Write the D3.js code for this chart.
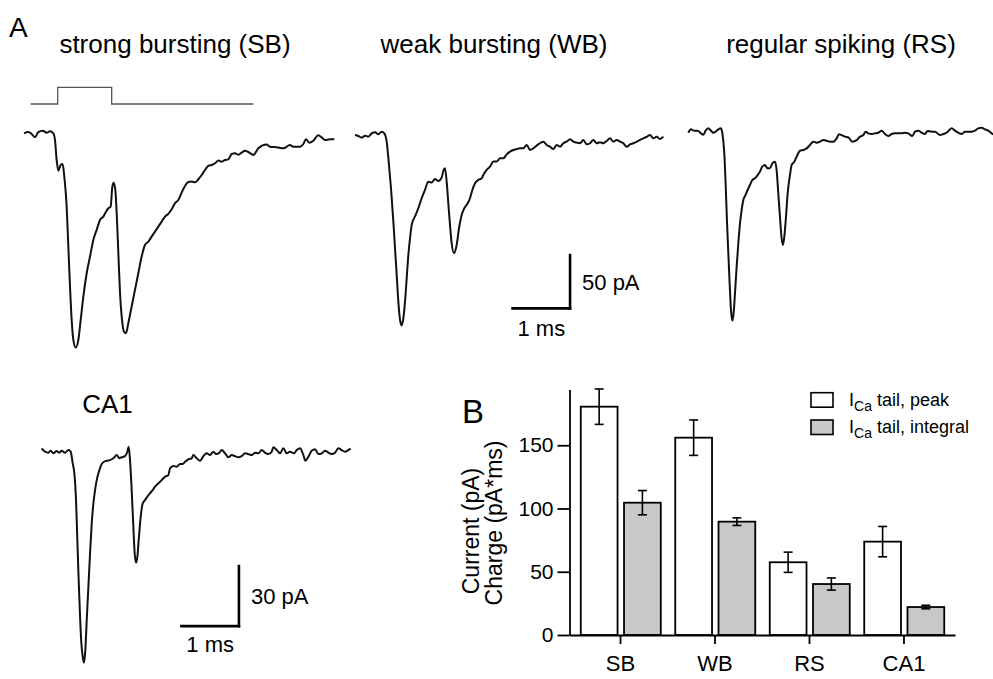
<!DOCTYPE html>
<html>
<head>
<meta charset="utf-8">
<script src="https://cdn.jsdelivr.net/npm/d3@7"></script>
<style>
  body { margin: 0; background: #fff; }
  svg { display: block; font-family: "Liberation Sans", Arial, sans-serif; }
</style>
</head>
<body>
<svg width="993" height="679"></svg>
<script>
// traces: [time (ms), current (pA)]
const sbTrace = [[0,-0.3],[0.075,0.9],[0.133,-0.9],[0.191,-4.1],[0.249,0.9],[0.325,2.2],[0.394,0.3],[0.452,1.6],[0.51,-0.3],[0.539,-6.6],[0.568,-25.3],[0.597,-35.3],[0.638,-30],[0.672,-29.1],[0.701,-40.9],[0.742,-69.1],[0.771,-106.6],[0.8,-144.1],[0.829,-175.3],[0.858,-194.1],[0.899,-201.3],[0.945,-194.1],[0.986,-175.3],[1.032,-153.4],[1.09,-131.6],[1.148,-115.9],[1.206,-100.3],[1.264,-90.9],[1.322,-81.6],[1.38,-78.4],[1.426,-73.8],[1.467,-70.6],[1.507,-69.1],[1.536,-50.3],[1.559,-46.6],[1.588,-53.4],[1.612,-75.3],[1.641,-112.8],[1.67,-150.3],[1.699,-172.2],[1.739,-186.3],[1.774,-187.8],[1.814,-178.4],[1.872,-162.8],[1.93,-147.2],[1.988,-131.6],[2.046,-115.9],[2.104,-105],[2.162,-101.9],[2.22,-97.2],[2.278,-92.5],[2.336,-87.8],[2.394,-83.1],[2.452,-78.4],[2.51,-75.9],[2.568,-71.6],[2.626,-65.9],[2.684,-62.8],[2.742,-55.9],[2.8,-49.7],[2.858,-45.9],[2.916,-45.6],[2.974,-46.3],[3.032,-43.4],[3.09,-39.4],[3.148,-34.7],[3.206,-30.9],[3.264,-30],[3.322,-28.4],[3.38,-25.9],[3.438,-26.9],[3.496,-25.3],[3.554,-24.7],[3.612,-19.7],[3.67,-19.1],[3.728,-20.3],[3.786,-18.4],[3.843,-16.6],[3.901,-17.8],[3.988,-20.6],[4.075,-14.4],[4.22,-10.9],[4.278,-12.8],[4.394,-13.4],[4.51,-14.4],[4.626,-11.3],[4.684,-12.8],[4.8,-12.8],[4.858,-10.3],[4.904,-5.9],[4.962,-9.1],[5.032,-7.2],[5.119,-2.2],[5.177,-4.1],[5.235,-6.6],[5.322,-5.9],[5.397,-5.9]];

const wbTrace = [[0,-0.6],[0.058,-1.6],[0.116,-3.1],[0.174,-1.3],[0.232,-2.2],[0.29,0.9],[0.348,1.9],[0.406,0],[0.464,2.5],[0.51,0.9],[0.551,-6.9],[0.591,-28.8],[0.626,-50.6],[0.667,-81.9],[0.696,-106.9],[0.725,-131.9],[0.754,-156.9],[0.783,-174.1],[0.812,-179.4],[0.841,-172.5],[0.87,-156.9],[0.899,-135],[0.928,-113.1],[0.957,-97.5],[0.986,-85],[1.014,-80.3],[1.055,-75.6],[1.101,-69.4],[1.159,-60],[1.217,-52.2],[1.275,-44.4],[1.333,-45.3],[1.391,-41.9],[1.449,-43.8],[1.507,-40.6],[1.536,-34.4],[1.565,-31.9],[1.594,-44.4],[1.623,-64.7],[1.652,-85],[1.681,-102.2],[1.722,-111.6],[1.768,-103.8],[1.809,-88.1],[1.855,-75.6],[1.901,-69.4],[1.959,-64.7],[2,-60],[2.041,-52.2],[2.087,-45.9],[2.145,-42.8],[2.203,-41.3],[2.232,-38.1],[2.29,-33.4],[2.348,-30.3],[2.406,-25.6],[2.464,-25.6],[2.522,-22.5],[2.58,-22.5],[2.638,-18.8],[2.696,-16.3],[2.754,-14.7],[2.812,-13.8],[2.87,-13.1],[2.928,-13.1],[2.986,-10],[3.043,-14.7],[3.101,-13.1],[3.159,-10.6],[3.217,-8.4],[3.275,-6.9],[3.333,-10],[3.391,-11.6],[3.449,-13.8],[3.507,-10],[3.565,-11.6],[3.623,-8.4],[3.681,-6.9],[3.739,-4.7],[3.797,-6.9],[3.855,-7.8],[3.913,-8.4],[3.971,-5.3],[4.029,-9.4],[4.087,-8.4],[4.145,-5.3],[4.203,-8.4],[4.261,-7.5],[4.319,-8.4],[4.377,-6.3],[4.435,-3.8],[4.493,-6.9],[4.551,-5.3],[4.609,-6.9],[4.667,-8.4],[4.725,-11.6],[4.783,-9.4],[4.841,-8.4],[4.899,-6.9],[4.957,-5.3],[5.014,-3.8],[5.072,-2.5],[5.13,-0.6],[5.188,-3.8],[5.246,-2.2],[5.304,-4.4],[5.362,-2.2]];

const rsTrace = [[0,-1.9],[0.046,1.3],[0.104,0],[0.162,0],[0.22,-2.5],[0.261,-3.8],[0.301,0],[0.348,2.2],[0.394,0],[0.435,-1.9],[0.475,-0.9],[0.522,1.3],[0.568,2.2],[0.597,-4.1],[0.626,-21.3],[0.649,-49.4],[0.672,-83.8],[0.696,-115],[0.719,-143.1],[0.742,-168.1],[0.765,-178.1],[0.788,-171.3],[0.812,-152.5],[0.841,-127.5],[0.87,-105.6],[0.899,-86.9],[0.928,-74.4],[0.957,-65],[0.986,-61.3],[1.032,-55.6],[1.072,-50.9],[1.113,-46.3],[1.159,-44.7],[1.206,-41.6],[1.246,-38.4],[1.287,-33.8],[1.333,-32.2],[1.38,-35.3],[1.42,-35.3],[1.461,-30.6],[1.507,-29.1],[1.536,-36.9],[1.565,-58.8],[1.594,-80.6],[1.623,-100.9],[1.646,-107.2],[1.67,-99.4],[1.699,-80.6],[1.728,-58.8],[1.768,-41.6],[1.797,-32.2],[1.843,-29.1],[1.884,-24.4],[1.942,-18.8],[2,-18.1],[2.058,-16.6],[2.116,-13.4],[2.174,-10.3],[2.232,-11.3],[2.29,-10.3],[2.348,-8.8],[2.406,-9.4],[2.464,-10.3],[2.522,-10.3],[2.58,-7.2],[2.62,-3.4],[2.667,-4.1],[2.725,-5.6],[2.783,-6.3],[2.852,-10.3],[2.928,-8.8],[2.986,-5.6],[3.043,-4.1],[3.084,-0.9],[3.13,-2.5],[3.188,-3.1],[3.246,-2.5],[3.304,-1.9],[3.362,0],[3.42,-3.1],[3.478,-5],[3.536,-3.1],[3.594,-2.5],[3.652,-2.5],[3.71,-2.5],[3.768,-1.9],[3.826,-2.5],[3.896,-5],[3.942,-0.9],[4,0],[4.058,-1.9],[4.116,-3.1],[4.162,-0.3],[4.232,-0.9],[4.29,-0.9],[4.377,-4.1],[4.435,-3.1],[4.493,-1.9],[4.58,2.2],[4.638,0],[4.696,-1.9],[4.754,-3.1],[4.812,-0.9],[4.87,-0.9],[4.928,-0.9],[4.986,0],[5.043,2.2],[5.101,2.8],[5.159,1.3],[5.217,0],[5.275,-2.5],[5.304,-3.4]];

const ca1Trace = [[0,1.7],[0.058,0],[0.116,-0.5],[0.157,0.5],[0.203,-0.8],[0.261,0.3],[0.307,-0.5],[0.348,0.5],[0.406,-0.5],[0.464,0.8],[0.504,0],[0.539,-5.8],[0.568,-10.8],[0.597,-24.2],[0.62,-44.2],[0.643,-64.2],[0.667,-82.5],[0.69,-95.8],[0.713,-102.5],[0.736,-105.5],[0.759,-99.2],[0.783,-84.2],[0.812,-67.5],[0.841,-50.8],[0.87,-35.8],[0.899,-25.8],[0.928,-19.2],[0.957,-14.2],[0.986,-10.8],[1.014,-8.3],[1.043,-6.2],[1.084,-5],[1.13,-4.5],[1.188,-4.2],[1.246,-3.3],[1.304,-1.7],[1.351,-3.3],[1.391,-2.8],[1.449,-2.2],[1.49,0],[1.513,2.5],[1.536,-4.2],[1.565,-19.2],[1.594,-37.5],[1.617,-50.8],[1.641,-55.5],[1.664,-52.5],[1.687,-44.2],[1.722,-32.5],[1.757,-25.8],[1.797,-24.2],[1.838,-22.5],[1.884,-20.8],[1.93,-19.2],[1.971,-17.5],[2.029,-15.8],[2.087,-14.2],[2.145,-12.5],[2.203,-11.7],[2.232,-8.3],[2.29,-7.2],[2.348,-7.5],[2.406,-6.2],[2.452,-6.2],[2.493,-5],[2.551,-3.8],[2.609,-3.3],[2.638,-1.7],[2.696,-3.3],[2.754,-4.5],[2.812,-2.2],[2.87,-0.8],[2.928,-1.7],[2.986,0],[3.032,-1.2],[3.09,-0.5],[3.13,0.8],[3.188,-0.8],[3.246,-2.8],[3.304,-1.7],[3.362,-2.2],[3.42,-2.8],[3.478,-2.2],[3.536,-0.8],[3.594,-1.2],[3.652,-1.7],[3.71,-0.5],[3.768,-0.8],[3.826,0.8],[3.884,-0.5],[3.942,-1.2],[4,0],[4.029,2.2],[4.087,0.8],[4.145,-0.8],[4.203,1.7],[4.261,-0.8],[4.319,0],[4.388,-0.8],[4.435,0.8],[4.493,1.7],[4.551,-1.7],[4.586,-4.5],[4.638,-2.5],[4.696,0.5],[4.754,1.2],[4.812,-1.2],[4.87,-0.8],[4.928,0.5],[4.986,-0.5],[5.043,-1.2],[5.101,-0.5],[5.159,1.7],[5.217,0.8],[5.275,0],[5.333,0.8],[5.374,1.5]];

// voltage step protocol (relative level), aligned with the SB trace
const stimTime = [0.117, 0.586, 0.586, 1.525, 1.525, 3.988];
const stimLevel = [0, 0, 1, 1, 0, 0];

// panel B
const categories = ['SB', 'WB', 'RS', 'CA1'];
const peakValues = [180.5, 156, 57.5, 73.8];
const peakErrors = [14, 14, 8, 12];
const integralValues = [104.6, 89.6, 40.3, 22.1];
const integralErrors = [9.6, 3, 4.8, 1.4];
const yTicks = [0, 50, 100, 150];

const msPx = 57.5;
var svg = d3.select('svg');

function drawTrace(data, x0, base, barPa, barPx) {
  const x = d3.scaleLinear().domain([0, 1]).range([x0, x0 + msPx]);
  const y = d3.scaleLinear().domain([0, -barPa]).range([base, base + barPx]);
  svg.append('path')
    .datum(data)
    .attr('fill', 'none')
    .attr('stroke', '#111')
    .attr('stroke-width', 2)
    .attr('stroke-linejoin', 'round')
    .attr('d', d3.line().x(d => x(d[0])).y(d => y(d[1])).curve(d3.curveMonotoneX));
  return { x: x, y: y };
}

function scaleBar(sc, t, i, pa, label, msLabelY) {
  const g = svg.append('g').attr('stroke', '#000').attr('stroke-width', 2.6).attr('stroke-linecap', 'square');
  g.append('line').attr('x1', sc.x(t - 1)).attr('x2', sc.x(t)).attr('y1', sc.y(i)).attr('y2', sc.y(i));
  g.append('line').attr('x1', sc.x(t)).attr('x2', sc.x(t)).attr('y1', sc.y(i)).attr('y2', sc.y(i + pa));
  svg.append('text').attr('x', sc.x(t) + 12).attr('y', (sc.y(i) + sc.y(i + pa)) / 2 + 8)
    .attr('font-size', '22px').text(label);
  svg.append('text').attr('x', sc.x(t - 0.5)).attr('y', sc.y(i) + msLabelY)
    .attr('font-size', '22px').attr('text-anchor', 'middle').text('1 ms');
}

// ---- panel A ----
svg.append('text').attr('x', 9).attr('y', 37).attr('font-size', '28px').text('A');

const titles = [['strong bursting (SB)', 175], ['weak bursting (WB)', 494], ['regular spiking (RS)', 841]];
titles.forEach(t => {
  svg.append('text').attr('x', t[1]).attr('y', 53).attr('font-size', '26px')
    .attr('text-anchor', 'middle').text(t[0]);
});

const sb = drawTrace(sbTrace, 24, 133, 50, 53.3);
const wb = drawTrace(wbTrace, 355, 134.3, 50, 53.3);
const rs = drawTrace(rsTrace, 688.3, 130.7, 50, 53.3);
const ca1 = drawTrace(ca1Trace, 41.7, 451.7, 30, 60);

const stimY = d3.scaleLinear().domain([0, 1]).range([104, 87.3]);
svg.append('path')
  .datum(d3.zip(stimTime, stimLevel))
  .attr('fill', 'none')
  .attr('stroke', '#555')
  .attr('stroke-width', 1.3)
  .attr('d', d3.line().x(d => sb.x(d[0])).y(d => stimY(d[1])));

scaleBar(wb, 3.74, -163.3, 50, '50 pA', 28);
scaleBar(ca1, 3.43, -87.2, 30, '30 pA', 26);

svg.append('text').attr('x', 107.5).attr('y', 413).attr('font-size', '26px')
  .attr('text-anchor', 'middle').text('CA1');

// ---- panel B ----
const xBand = d3.scaleBand().domain(categories).range([569.5, 955]).paddingOuter(0.04);
const xInner = d3.scaleBand().domain(['peak', 'integral']).range([7.5, 87.5]).paddingInner(0.15);
const yScale = d3.scaleLinear().domain([0, 194]).range([635, 389.6]);

const bars = [];
categories.forEach((c, i) => {
  bars.push({ cat: c, kind: 'peak', v: peakValues[i], e: peakErrors[i], fill: '#fff' });
  bars.push({ cat: c, kind: 'integral', v: integralValues[i], e: integralErrors[i], fill: '#c8c8c8' });
});

const barGroups = svg.append('g').selectAll('g').data(bars).enter().append('g')
  .attr('transform', d => `translate(${xBand(d.cat) + xInner(d.kind)},0)`);

barGroups.append('rect')
  .attr('x', 0)
  .attr('y', d => yScale(d.v))
  .attr('width', xInner.bandwidth())
  .attr('height', d => yScale(0) - yScale(d.v))
  .attr('fill', d => d.fill)
  .attr('stroke', '#000')
  .attr('stroke-width', 1.8);

const bw = xInner.bandwidth();
barGroups.append('line')
  .attr('x1', bw / 2).attr('x2', bw / 2)
  .attr('y1', d => yScale(d.v - d.e)).attr('y2', d => yScale(d.v + d.e))
  .attr('stroke', '#000').attr('stroke-width', 1.6);
[-1, 1].forEach(s => {
  barGroups.append('line')
    .attr('x1', bw / 2 - 4.5).attr('x2', bw / 2 + 4.5)
    .attr('y1', d => yScale(d.v + s * d.e)).attr('y2', d => yScale(d.v + s * d.e))
    .attr('stroke', '#000').attr('stroke-width', 1.6);
});

const yAxis = svg.append('g')
  .attr('transform', 'translate(569.5,0)')
  .call(d3.axisLeft(yScale).tickValues(yTicks).tickSize(12).tickSizeOuter(0).tickPadding(4));
yAxis.selectAll('text').attr('font-size', '21px').attr('font-family', '"Liberation Sans", Arial, sans-serif').attr('fill', '#000');

const xAxis = svg.append('g')
  .attr('transform', 'translate(0,635)')
  .call(d3.axisBottom(xBand).tickSize(9).tickSizeOuter(0).tickPadding(11));
xAxis.selectAll('text').attr('font-size', '22px').attr('font-family', '"Liberation Sans", Arial, sans-serif').attr('fill', '#000');

[yAxis, xAxis].forEach(a => {
  a.selectAll('path, line').attr('stroke', '#000').attr('stroke-width', 1.8);
});

svg.append('text').attr('x', 462).attr('y', 423).attr('font-size', '33px').text('B');

svg.append('text').attr('transform', 'translate(479,531) rotate(-90)')
  .attr('font-size', '23px').attr('text-anchor', 'middle').text('Current (pA)');
svg.append('text').attr('transform', 'translate(502,523) rotate(-90)')
  .attr('font-size', '23px').attr('text-anchor', 'middle').text('Charge (pA*ms)');

// legend
const legend = [['#fff', 'peak', 392.7, 406], ['#c8c8c8', 'integral', 420, 433]];
legend.forEach(l => {
  svg.append('rect').attr('x', 811).attr('y', l[2]).attr('width', 22).attr('height', 14.5)
    .attr('fill', l[0]).attr('stroke', '#000').attr('stroke-width', 1.6);
  const t = svg.append('text').attr('x', 849).attr('y', l[3]).attr('font-size', '18px');
  t.append('tspan').text('I');
  t.append('tspan').attr('dy', 5).attr('font-size', '14px').text('Ca');
  t.append('tspan').attr('dy', -5).text(' tail, ' + l[1]);
});
</script>
</body>
</html>
